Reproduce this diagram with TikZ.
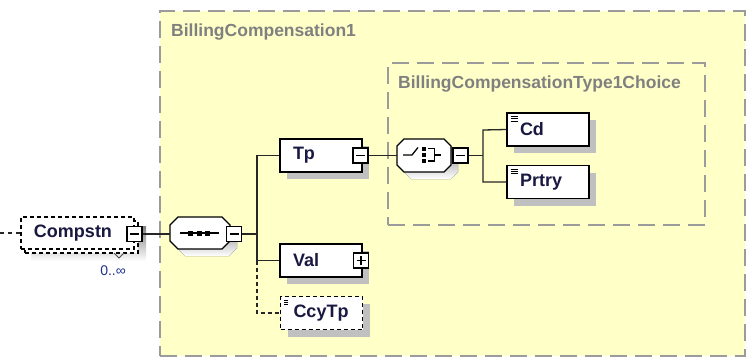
\documentclass[tikz,border=0pt]{standalone}
\usepackage{fontspec}
\setmainfont{Liberation Sans}
\usetikzlibrary{shadows,calc}
\definecolor{bgyellow}{RGB}{255,255,200}
\definecolor{framegray}{RGB}{155,155,155}
\definecolor{lblgray}{RGB}{128,128,128}
\definecolor{ename}{RGB}{24,24,64}
\definecolor{shade}{RGB}{192,192,192}
\definecolor{occ}{RGB}{30,50,140}
\begin{document}
\begin{tikzpicture}[x=1pt,y=-1pt,
  grp/.style={draw=framegray,line width=2pt,dash pattern=on 17pt off 8pt,fill=bgyellow,inner sep=0pt,anchor=north west},
  grplabel/.style={anchor=west,text=lblgray,font=\fontsize{17.5}{20}\selectfont\bfseries,inner sep=0pt},
  elem/.style={draw=black,line width=1.3pt,fill=white,minimum width=82pt,minimum height=33pt,
    text width=56pt,inner xsep=13pt,inner ysep=0pt,align=left,
    font=\fontsize{18}{21}\selectfont\bfseries,text=ename},
  shd/.style={general shadow={fill=shade,shadow xshift=7pt,shadow yshift=-7pt}},
  leaf/.style={path picture={
    \foreach \i in {0,1,2}
      \draw[line width=0.9pt] ($(path picture bounding box.north west)+(3.5,3.5+2.4*\i)$) -- ++(7,0);}},
  optl/.style={dash pattern=on 4pt off 3pt},
  btn/.style={draw=black,line width=1.2pt,fill=white,minimum size=15pt,inner sep=0pt},
  minusbtn/.style={btn,path picture={
    \draw[line width=1.2pt] ($(path picture bounding box.west)+(3,0)$) -- ($(path picture bounding box.east)+(-3,0)$);}},
  plusbtn/.style={btn,path picture={
    \draw[line width=1.2pt] ($(path picture bounding box.west)+(3,0)$) -- ($(path picture bounding box.east)+(-3,0)$);
    \draw[line width=1.2pt] ($(path picture bounding box.north)+(0,3)$) -- ($(path picture bounding box.south)+(0,-3)$);}},
  conn/.style={draw=black!85,line width=1.3pt},
  octo/.style={draw=black,line width=1.3pt,fill=white},
  sq/.style={fill=black}
]
\useasboundingbox (0,0) rectangle (748,360);

% containers
\node[grp,minimum width=585pt,minimum height=345pt] (outer) at (159,10) {};
\node[grplabel] (outerlbl) at (171,32) {BillingCompensation1};
\node[grp,minimum width=317pt,minimum height=162pt] (inner) at (387,62) {};
\node[grplabel] (innerlbl) at (398,84) {BillingCompensationType1Choice};

% Compstn (repeating, optional)
\fill[shade] (31,226) rectangle (146,261);
\node[draw=black,line width=1.3pt,optl,fill=white,minimum width=113pt,minimum height=32pt,inner sep=0pt] (compback) at (81.5,237) {};
\node[elem,optl,minimum width=113pt,minimum height=32pt,text width=87pt] (compstn) at (77.5,233) {Compstn};
\node[minusbtn] (compbtn) at (134.5,234) {};
\coordinate (lefte) at (0,233);
\draw[conn,dash pattern=on 4pt off 4pt] (lefte) -- (compstn.west);
\draw[black!70,line width=0.8pt] (114,253) -- (119,258) -- (124,253);
\node[anchor=east,inner sep=0pt,text=occ,font=\fontsize{14}{16}\selectfont] (occlbl) at (126,271) {0..∞};

% sequence compositor
\node[inner sep=0pt,minimum width=60pt,minimum height=32pt] (seq) at (200,233) {};
\fill[shade] (185,224) -- (229,224) -- (237,232) -- (237,248) -- (229,256) -- (185,256) -- (177,248) -- (177,232) -- cycle;
\draw[octo] (178,217) -- (222,217) -- (230,225) -- (230,241) -- (222,249) -- (178,249) -- (170,241) -- (170,225) -- cycle;
\draw[line width=1.3pt] (180,233) -- (219,233);
\fill[sq] (188,231) rectangle (193,236);
\fill[sq] (196.5,231) rectangle (201.5,236);
\fill[sq] (205,231) rectangle (210,236);
\node[minusbtn] (seqbtn) at (234,234) {};
\draw[conn] (compbtn.east) -- (seq.west |- compbtn.east);

% branch 1
\coordinate (b1top) at (257,155.5);
\coordinate (b1mid) at (257,260.5);
\coordinate (b1bot) at (257,313);
\draw[conn] (seqbtn.east) -- (seqbtn.east -| b1top);

\node[elem,shd] (tp) at (321,155.5) {Tp};
\node[minusbtn] (tpbtn) at (360.5,155.5) {};
\node[elem,shd] (val) at (321,260.5) {Val};
\node[plusbtn] (valbtn) at (361,260.5) {};
\node[elem,shd,optl,leaf] (ccy) at (321.5,313) {CcyTp};

\draw[conn] (tp.west) -- (b1top) -- (b1mid) -- (val.west);
\draw[conn,dash pattern=on 4pt off 3pt] (b1mid) -- (b1bot) -- (ccy.west);

% choice compositor
\node[inner sep=0pt,minimum width=54pt,minimum height=32pt] (choice) at (424,155.5) {};
\fill[shade] (411,146) -- (451,146) -- (458,153) -- (458,172) -- (451,179) -- (411,179) -- (404,172) -- (404,153) -- cycle;
\draw[octo] (404,139) -- (444,139) -- (451,146) -- (451,165) -- (444,172) -- (404,172) -- (397,165) -- (397,146) -- cycle;
\draw[line width=1.3pt] (403,155) -- (412,155) -- (418,147.5);
\fill[sq] (421.5,146.5) rectangle (426,150.5);
\fill[sq] (421.5,152.5) rectangle (426,157);
\fill[sq] (421.5,159) rectangle (426,163);
\draw[line width=1.3pt] (427.5,148.5) -- (434.5,148.5) -- (434.5,161) -- (427.5,161);
\draw[line width=1.3pt] (434.5,155) -- (441,155);
\node[minusbtn] (chbtn) at (460.5,155.5) {};
\draw[conn] (tpbtn.east) -- (choice.west |- tpbtn.east);

% branch 2
\coordinate (b2top) at (483,130);
\coordinate (b2bot) at (483,182);
\draw[conn] (chbtn.east) -- (chbtn.east -| b2top);
\node[elem,shd,leaf] (cd) at (548,129.5) {Cd};
\node[elem,shd,leaf] (prtry) at (548,182) {Prtry};
\draw[conn] (cd.west) -- (b2top) -- (b2bot) -- (prtry.west);
\end{tikzpicture}
\end{document}
